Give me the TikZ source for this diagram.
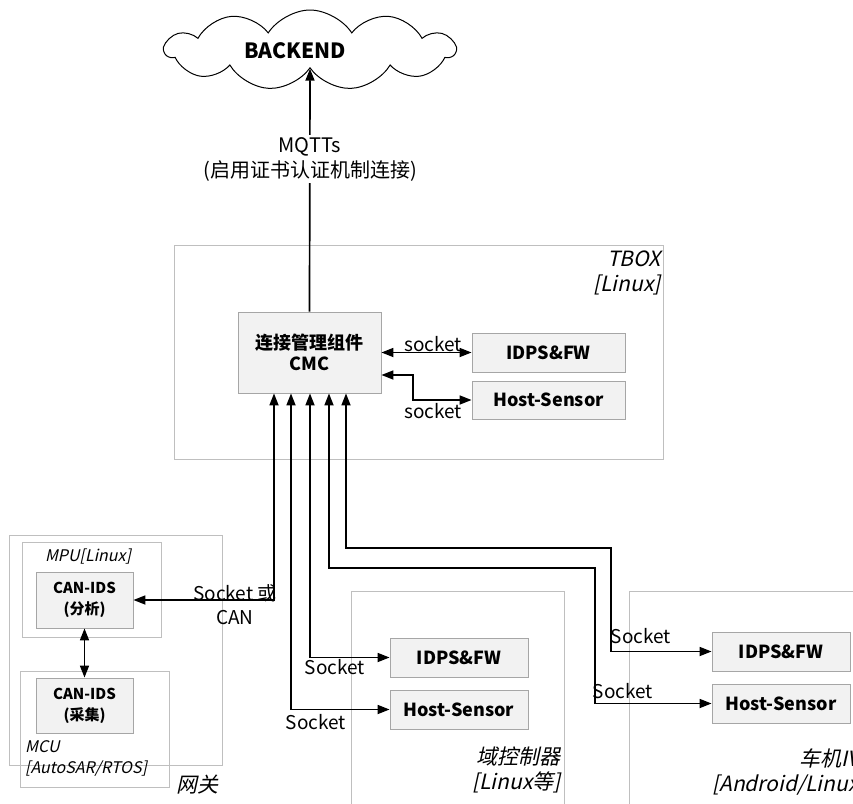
\documentclass[tikz,border=0pt]{standalone}
\usepackage{fontspec}
\setmainfont{Noto Sans CJK SC}[ItalicFont={Noto Sans CJK SC}, ItalicFeatures={FakeSlant=0.22}]
\usetikzlibrary{arrows.meta,shapes.symbols}
\definecolor{boxfill}{HTML}{F2F2F2}
\definecolor{boxline}{HTML}{A6A6A6}
\definecolor{contline}{HTML}{BFBFBF}
\begin{document}
\begin{tikzpicture}[x=1pt,y=-1pt,
 cont/.style={draw=contline, line width=0.9pt, anchor=north west, inner sep=0pt},
 comp/.style={draw=boxline, fill=boxfill, line width=0.9pt, font=\bfseries\fontsize{18pt}{21pt}\selectfont, align=center, inner sep=0pt},
 lbl/.style={font=\fontsize{19pt}{24pt}\selectfont, inner sep=0pt},
 ital/.style={font=\itshape\fontsize{21pt}{25pt}\selectfont, align=right, inner sep=0pt},
 dbl/.style={{Triangle[length=12pt,width=9pt]}-{Triangle[length=12pt,width=9pt]}, line width=1.7pt},
 sgl/.style={-{Triangle[length=12pt,width=9pt]}, line width=1.7pt}]
\useasboundingbox (0,0) rectangle (853,803);
\clip (0,0) rectangle (853,803);
% containers
\node[cont, minimum width=489pt, minimum height=214pt] (tbox) at (174,245) {};
\node[cont, minimum width=213pt, minimum height=230pt] (gw) at (9,535) {};
\node[cont, minimum width=139pt, minimum height=95pt] (mpu) at (22,542) {};
\node[cont, minimum width=149pt, minimum height=116pt] (mcu) at (20,671) {};
\node[cont, minimum width=213pt, minimum height=230pt] (dom) at (351,591) {};
\node[cont, minimum width=240pt, minimum height=230pt] (ivi) at (629,591) {};
% components
\node[comp, minimum width=143pt, minimum height=81pt] (cmc) at (309.5,352.5) {连接管理组件\\CMC};
\node[comp, minimum width=153pt, minimum height=39pt] (tidps) at (548.5,352.5) {IDPS\&FW};
\node[comp, minimum width=153pt, minimum height=38pt] (thost) at (548.5,400) {Host-Sensor};
\node[comp, minimum width=138pt, minimum height=39pt] (didps) at (459,657.5) {IDPS\&FW};
\node[comp, minimum width=138pt, minimum height=39pt] (dhost) at (459,709.5) {Host-Sensor};
\node[comp, minimum width=138pt, minimum height=39pt] (iidps) at (781,651.5) {IDPS\&FW};
\node[comp, minimum width=138pt, minimum height=39pt] (ihost) at (781,703.5) {Host-Sensor};
\node[comp, minimum width=97pt, minimum height=56pt, font=\bfseries\fontsize{15pt}{21pt}\selectfont] (ids1) at (84.5,600) {CAN-IDS\\(分析)};
\node[comp, minimum width=97pt, minimum height=55pt, font=\bfseries\fontsize{15pt}{21pt}\selectfont] (ids2) at (84.5,705.5) {CAN-IDS\\(采集)};
% cloud
\node[cloud, draw=black, line width=1pt, cloud puffs=11, cloud puff arc=115, aspect=3.6, minimum width=290pt, minimum height=80pt, inner sep=0pt] (cloud) at (310,50) {};
\node[font=\bfseries\fontsize{21pt}{24pt}\selectfont, inner sep=0pt] (backend) at (295,51) {BACKEND};
% top connector
\draw[sgl] (cmc.north) -- (cloud.south);
\node[lbl, fill=white, align=center, font=\fontsize{20pt}{25pt}\selectfont, inner sep=2pt] (mq) at (310,159) {MQTTs\\(启用证书认证机制连接)};
% TBOX connectors
\draw[dbl] (cmc.east |- tidps.west) -- (tidps.west);
\coordinate (k2) at (413,375);
\draw[dbl] (cmc.east |- k2) -- (k2) |- (thost.west);
\node[lbl] (s1) at (433,344) {socket};
\node[lbl] (s2) at (433,411) {socket};
% bottom connectors
\coordinate (k4) at (595,568);
\coordinate (k5) at (611,548);
\draw[dbl] ([xshift=-35.5pt]cmc.south) |- (ids1.east);
\draw[dbl] ([xshift=-18.5pt]cmc.south) |- (dhost.west);
\draw[dbl] ([xshift=0.5pt]cmc.south) |- (didps.west);
\draw[dbl] ([xshift=19.5pt]cmc.south) |- (k4) |- (ihost.west);
\draw[dbl] ([xshift=36.5pt]cmc.south) |- (k5) |- (iidps.west);
\draw[dbl] (ids1.south) -- (ids2.north);
% connector labels
\node[lbl, align=center] (sc) at (235,605) {Socket 或\\CAN};
\node[lbl] (ls1) at (335,667) {Socket};
\node[lbl] (ls2) at (316,722) {Socket};
\node[lbl] (ls3) at (641,636) {Socket};
\node[lbl] (ls4) at (623,691) {Socket};
% container labels
\node[ital, anchor=north east] (tboxl) at (661,251) {TBOX\\{[Linux]}};
\node[ital, anchor=north east] (doml) at (561,747) {域控制器\\{[Linux等]}};
\node[ital, anchor=north east] (ivil) at (866,749) {车机IVI\\{[Android/Linux]}};
\node[ital, anchor=east] (gwl) at (219,785) {网关};
\node[ital, font=\itshape\fontsize{16pt}{19pt}\selectfont] (mpul) at (88,557) {MPU[Linux]};
\node[ital, anchor=north west, align=left, font=\itshape\fontsize{16pt}{21pt}\selectfont] (mcul) at (25,740) {MCU\\{[AutoSAR/RTOS]}};
\end{tikzpicture}
\end{document}
